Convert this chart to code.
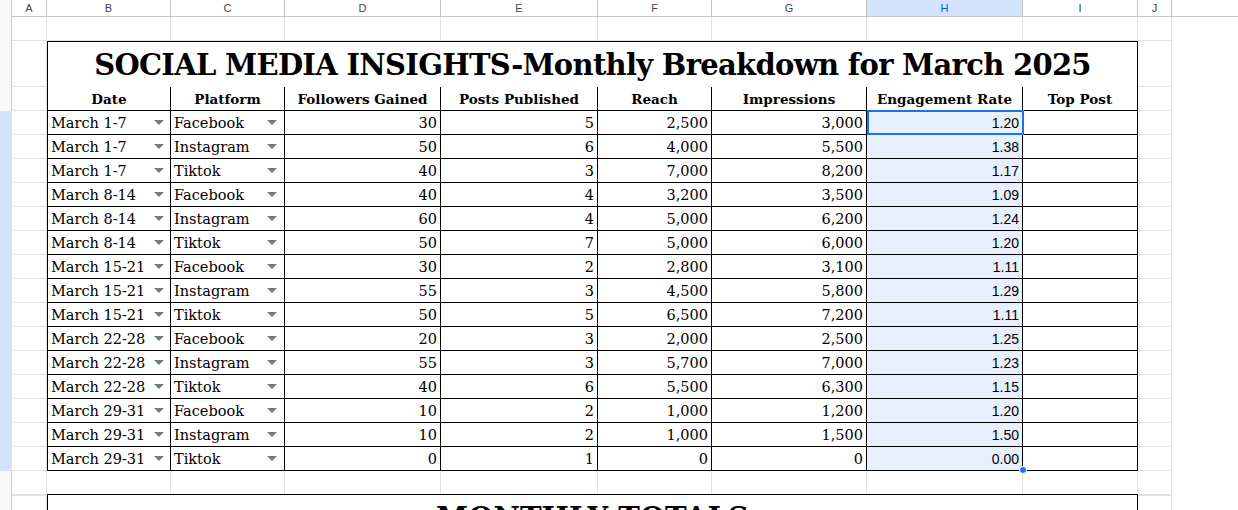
<!DOCTYPE html>
<html><head><meta charset="utf-8">
<script src="https://cdn.jsdelivr.net/npm/chart.js"></script>
<style>
body{margin:0;width:1238px;height:510px;overflow:hidden;background:#fff;font-family:"DejaVu Serif",serif;position:relative}
.c{position:absolute;box-sizing:border-box;white-space:nowrap;overflow:hidden}
.g{border-right:1px solid #e1e1e1;border-bottom:1px solid #e1e1e1}
.hd{font-family:Arial,"Liberation Sans",sans-serif;font-size:11px;color:#444;text-align:center;line-height:17px;background:#fff;border-right:1px solid #c7c7c7;border-bottom:1px solid #c7c7c7}
.t{font-size:14.5px;line-height:25px;color:#000}
.arr{position:absolute;width:0;height:0;border-left:5px solid transparent;border-right:5px solid transparent;border-top:5px solid #777;top:9px}
</style></head><body>
<div id="root"></div>
<canvas id="cv" width="1" height="1" style="position:absolute;left:-10px;top:-10px"></canvas>
<script>
const dates=["March 1-7","March 1-7","March 1-7","March 8-14","March 8-14","March 8-14","March 15-21","March 15-21","March 15-21","March 22-28","March 22-28","March 22-28","March 29-31","March 29-31","March 29-31"];
const platforms=["Facebook","Instagram","Tiktok","Facebook","Instagram","Tiktok","Facebook","Instagram","Tiktok","Facebook","Instagram","Tiktok","Facebook","Instagram","Tiktok"];
const followers=[30,50,40,40,60,50,30,55,50,20,55,40,10,10,0];
const posts=[5,6,3,4,4,7,2,3,5,3,3,6,2,2,1];
const reach=[2500,4000,7000,3200,5000,5000,2800,4500,6500,2000,5700,5500,1000,1000,0];
const impressions=[3000,5500,8200,3500,6200,6000,3100,5800,7200,2500,7000,6300,1200,1500,0];
const engagement=["1.20","1.38","1.17","1.09","1.24","1.20","1.11","1.29","1.11","1.25","1.23","1.15","1.20","1.50","0.00"];
const headers=["Date","Platform","Followers Gained","Posts Published","Reach","Impressions","Engagement Rate","Top Post"];
const colLetters=["A","B","C","D","E","F","G","H","I","J"];
const title="SOCIAL MEDIA INSIGHTS-Monthly Breakdown for March 2025";

const xs=[12,47,171,285,441,598,712,867,1023,1138,1172];
const root=document.getElementById('root');
function div(cls,x,y,w,h,html,st){const d=document.createElement('div');d.className='c '+cls;Object.assign(d.style,{left:x+'px',top:y+'px',width:w+'px',height:h+'px'},st||{});if(html!==undefined)d.innerHTML=html;root.appendChild(d);return d;}
div('',0,0,12,510,'',{background:'#f8f9fa',borderRight:'1px solid #c7c7c7'});
div('',0,111,12,360,'',{background:'#d3e3fd'});
for(let i=0;i<10;i++){div('hd',xs[i],0,xs[i+1]-xs[i],17,colLetters[i],i==7?{background:'#d3e3fd',color:'#0b57d0'}:{});}
div('hd',1172,0,66,17,'',{borderRight:'none'});
const rows=[17,41,87,111];for(let r=0;r<16;r++)rows.push(135+r*24);
rows.push(494,518);
for(let r=0;r<rows.length-1;r++)for(let i=0;i<10;i++)div('g',xs[i],rows[r],xs[i+1]-xs[i],rows[r+1]-rows[r]);
div('',867,111,156,360,'',{background:'#e8f0fe'});
div('t',47,41,1091,47,title,{border:'1px solid #000',textAlign:'center',fontWeight:'bold',fontSize:'29px',lineHeight:'47px',background:'#fff',letterSpacing:'-0.7px'});
for(let i=0;i<8;i++)div('t',xs[i+1]-(i?1:0),87,xs[i+2]-xs[i+1]+(i?1:0),24,headers[i],{border:'1px solid #000',borderTop:'none',textAlign:'center',fontWeight:'bold',fontSize:'13.5px',background:'#fff'});
const fmt=v=>v.toLocaleString('en-US');
for(let r=0;r<15;r++){
 const y=111+r*24;
 const vals=[dates[r],platforms[r],fmt(followers[r]),fmt(posts[r]),fmt(reach[r]),fmt(impressions[r]),engagement[r],''];
 for(let i=0;i<8;i++){
  const x=xs[i+1],w=xs[i+2]-xs[i+1];
  const st={borderRight:'1px solid #000',borderBottom:'1px solid #000',borderLeft:i==0?'1px solid #000':'none',padding:'0 3px',textAlign:i<2?'left':'right'};
  if(i==6){st.fontFamily='"Liberation Sans",Arial,sans-serif';st.fontSize='14px';}
  const d=div('t',x,y,w,24,vals[i],st);
  if(i<2){const a=document.createElement('div');a.className='arr';a.style.left=(w-18)+'px';d.appendChild(a);}
 }
}
div('',867,110,157,25,'',{border:'2px solid #1a73e8'});
div('',1019,466,8,8,'',{background:'#1a73e8',borderRadius:'50%',border:'1px solid #fff'});
div('t',47,494,1091,40,'MONTHLY TOTALS',{border:'1px solid #000',textAlign:'center',fontWeight:'bold',fontSize:'29px',lineHeight:'47px',background:'#fff'});
</script>
</body></html>
